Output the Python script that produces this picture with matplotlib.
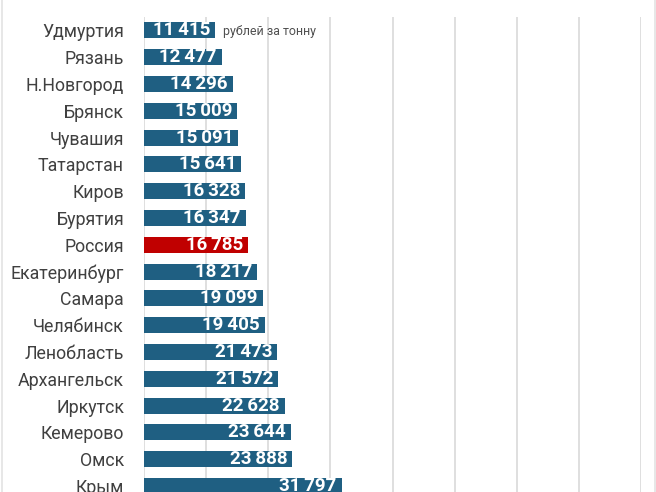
import matplotlib
matplotlib.use("Agg")
import matplotlib.pyplot as plt
from matplotlib.lines import Line2D

regions = ["Удмуртия", "Рязань", "Н.Новгород", "Брянск", "Чувашия", "Татарстан",
           "Киров", "Бурятия", "Россия", "Екатеринбург", "Самара", "Челябинск",
           "Ленобласть", "Архангельск", "Иркутск", "Кемерово", "Омск", "Крым"]
values = [11415, 12477, 14296, 15009, 15091, 15641, 16328, 16347, 16785,
          18217, 19099, 19405, 21473, 21572, 22628, 23644, 23888, 31797]
highlight = "Россия"
unit_label = "рублей за тонну"
x_ticks = [0, 10000, 20000, 30000, 40000, 50000, 60000, 70000, 80000]

BLUE = "#1f5f82"
RED = "#c00000"
GRID = "#d9d9d9"
TEXT = "#404040"
FONT = ["Roboto", "DejaVu Sans"]

plt.rcParams["font.family"] = FONT

fig = plt.figure(figsize=(6.56, 4.92), dpi=100)
W, H = 656, 492
left_px, top_px, right_px = 144, 17, 641
row_px = 26.8
n = len(regions)
ax_h_px = (n) * row_px
ax = fig.add_axes([left_px / W, 1 - (top_px + ax_h_px) / H,
                   (right_px - left_px) / W, ax_h_px / H])

y = list(range(n))
colors = [RED if r == highlight else BLUE for r in regions]
bars = ax.barh(y, values, height=0.6, color=colors, zorder=3)

ax.set_xlim(x_ticks[0], x_ticks[-1])
ax.set_ylim(n - 0.5, -0.5)
ax.set_xticks(x_ticks)
ax.xaxis.grid(True, color=GRID, linewidth=1.2, zorder=0)
ax.set_axisbelow(True)
ax.tick_params(axis="x", which="both", length=0, labelbottom=False)
ax.tick_params(axis="y", length=0, pad=14.4, labelsize=12.8, labelcolor=TEXT)
ax.set_yticks(y)
ax.set_yticklabels(regions)
for s in ax.spines.values():
    s.set_visible(False)

def fmt(v):
    s = f"{v:,}".replace(",", "\u2009")
    return s

for yi, v in zip(y, values):
    ax.annotate(fmt(v), xy=(v, yi), xytext=(-3.5, 0), textcoords="offset points",
                ha="right", va="center", color="white", fontsize=13.5,
                fontweight="bold", zorder=4)

ax.annotate(unit_label, xy=(values[0], 0), xytext=(6, -0.5), textcoords="offset points",
            ha="left", va="center", color="#505050", fontsize=8.9, zorder=4)

fig.add_artist(Line2D([1.5 / W, 1.5 / W], [0, 1], color="#e3e3e3", linewidth=1.2))
fig.add_artist(Line2D([654.5 / W, 654.5 / W], [0, 1], color="#e3e3e3", linewidth=1.2))

fig.savefig("out.png", dpi=100)
